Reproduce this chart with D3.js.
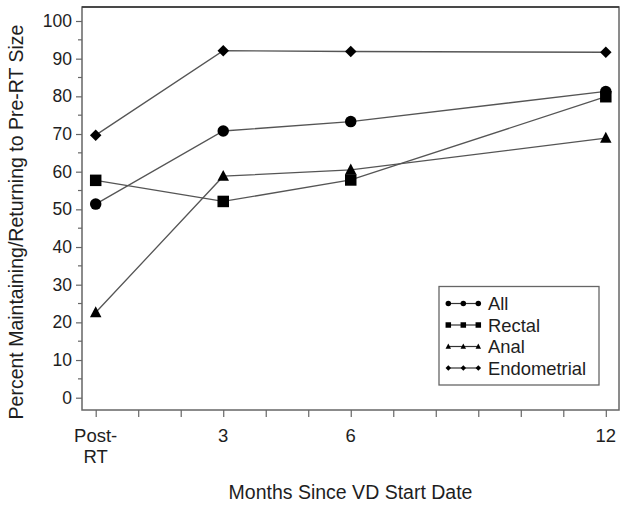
<!DOCTYPE html>
<html><head><meta charset="utf-8">
<script src="https://cdn.jsdelivr.net/npm/d3@7"></script>
<style>
html,body{margin:0;padding:0;background:#fff;}
svg{display:block;font-family:"Liberation Sans",Arial,sans-serif;}
</style></head>
<body>
<svg id="chart" width="629" height="507"></svg>
<script>
const months = [0, 3, 6, 12];
const xTickValues = [0,1,2,3,4,5,6,7,8,9,10,11,12];
const xTickLabels = {0: ["Post-", "RT"], 3: ["3"], 6: ["6"], 12: ["12"]};
const yTickValues = [0,10,20,30,40,50,60,70,80,90,100];
const seriesNames = ["All", "Rectal", "Anal", "Endometrial"];
const allValues = [51.4, 70.8, 73.3, 81.3];
const rectalValues = [57.7, 52.1, 57.8, 79.9];
const analValues = [22.6, 58.8, 60.5, 68.9];
const endometrialValues = [69.7, 92.1, 91.9, 91.7];
const seriesShapes = ["circle", "square", "triangle", "diamond"];

const series = [allValues, rectalValues, analValues, endometrialValues].map((v, i) => ({
  name: seriesNames[i], shape: seriesShapes[i], values: v
}));

const svg = d3.select("#chart");
const frame = {left: 82, right: 619, top: 7, bottom: 410};
const x = d3.scaleLinear().domain([0, 12]).range([95.7, 605.8]);
const y = d3.scaleLinear().domain([0, 100]).range([397.7, 21]);

function shapePath(shape, s) {
  const h = s / 2;
  if (shape === "circle") return d3.symbol(d3.symbolCircle, Math.PI * h * h)();
  if (shape === "square") return `M${-h},${-h}H${h}V${h}H${-h}Z`;
  if (shape === "triangle") return `M0,${-h * 1.1}L${h},${h * 0.8}L${-h},${h * 0.8}Z`;
  if (shape === "diamond") return `M0,${-h}L${h},0L0,${h}L${-h},0Z`;
}

const gray = "#666";
const textColor = "#1e1e1e";
// frame
svg.append("rect").attr("x", frame.left).attr("y", frame.top)
  .attr("width", frame.right - frame.left).attr("height", frame.bottom - frame.top)
  .attr("fill", "none").attr("stroke", gray).attr("stroke-width", 1.5);
svg.append("line").attr("x1", frame.left).attr("x2", frame.right)
  .attr("y1", frame.top).attr("y2", frame.top).attr("stroke", "#333").attr("stroke-width", 1.5);

// y axis ticks
const yAxis = d3.axisLeft(y).tickValues(yTickValues).tickSize(6).tickPadding(4).tickFormat(d3.format("d"));
const gy = svg.append("g").attr("transform", `translate(${frame.left},0)`).call(yAxis);
gy.select(".domain").remove();
gy.selectAll(".tick line").attr("stroke", gray).attr("stroke-width", 1.2);
gy.selectAll(".tick text").attr("font-size", 17.5).attr("fill", textColor).attr("font-family", "Liberation Sans, Arial, sans-serif");
// minor ticks
const minor = d3.range(5, 100, 10);
svg.append("g").selectAll("line").data(minor).join("line")
  .attr("x1", frame.left - 4).attr("x2", frame.left)
  .attr("y1", d => y(d)).attr("y2", d => y(d))
  .attr("stroke", gray).attr("stroke-width", 1.2);

// x axis
const xAxis = d3.axisBottom(x).tickValues(xTickValues).tickSize(7).tickFormat("");
const gx = svg.append("g").attr("transform", `translate(0,${frame.bottom})`).call(xAxis);
gx.select(".domain").remove();
gx.selectAll(".tick line").attr("stroke", gray).attr("stroke-width", 1.2);
Object.keys(xTickLabels).forEach(k => {
  const lines = xTickLabels[k];
  const t = svg.append("text").attr("x", x(+k)).attr("y", 441.5)
    .attr("text-anchor", "middle").attr("font-size", 18.5).attr("fill", textColor);
  lines.forEach((l, i) => t.append("tspan").attr("x", x(+k)).attr("dy", i === 0 ? 0 : 21.5).text(l));
});

// axis titles
svg.append("text").attr("x", (frame.left + frame.right) / 2).attr("y", 499)
  .attr("text-anchor", "middle").attr("font-size", 19.5).attr("fill", textColor)
  .text("Months Since VD Start Date");
svg.append("text").attr("transform", `translate(23,${222}) rotate(-90)`)
  .attr("text-anchor", "middle").attr("font-size", 19.5).attr("fill", textColor)
  .text("Percent Maintaining/Returning to Pre-RT Size");

// lines
const line = d3.line().x((d, i) => x(months[i])).y(d => y(d));
series.forEach(s => {
  svg.append("path").attr("d", line(s.values)).attr("fill", "none")
    .attr("stroke", "#555").attr("stroke-width", 1.3);
});
series.forEach(s => {
  svg.append("g").selectAll("path").data(s.values).join("path")
    .attr("transform", (d, i) => `translate(${x(months[i])},${y(d)})`)
    .attr("d", shapePath(s.shape, 11.5)).attr("fill", "#000");
});

// legend
const lg = svg.append("g");
lg.append("rect").attr("x", 439).attr("y", 286.5).attr("width", 160).attr("height", 98.5)
  .attr("fill", "#fff").attr("stroke", gray).attr("stroke-width", 1.3);
series.forEach((s, i) => {
  const yy = 303.5 + i * 21.5;
  lg.append("line").attr("x1", 448).attr("x2", 478.5).attr("y1", yy).attr("y2", yy)
    .attr("stroke", "#333").attr("stroke-width", 1.2);
  [448.3, 463.3, 478.3].forEach(xx => {
    lg.append("path").attr("transform", `translate(${xx},${yy})`)
      .attr("d", shapePath(s.shape, 5.5)).attr("fill", "#000");
  });
  lg.append("text").attr("x", 488).attr("y", yy + 6.5).attr("font-size", 18.4).attr("fill", textColor).text(s.name);
});
</script>
</body></html>
